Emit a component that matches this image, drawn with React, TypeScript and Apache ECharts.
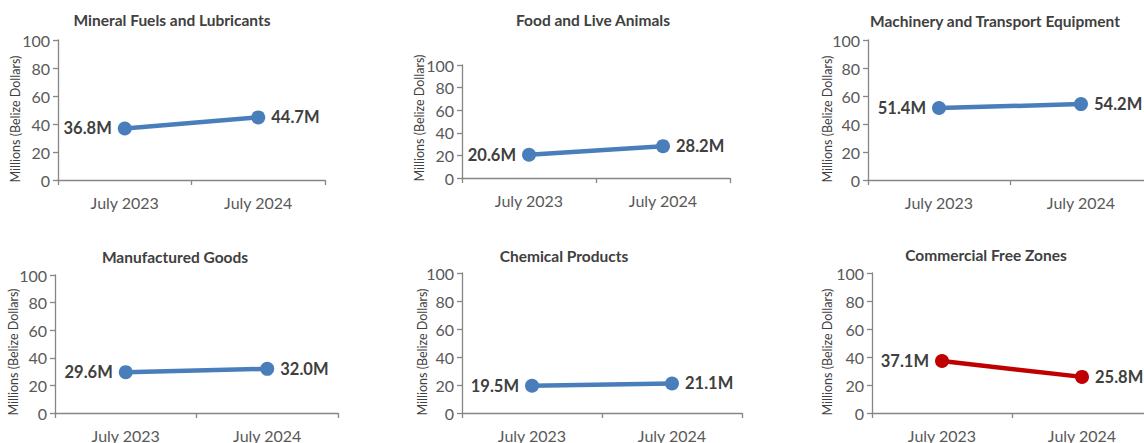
import React, { useEffect, useRef } from "react";
import * as echarts from "echarts";

const categories = ["July 2023", "July 2024"];
const panelTitles = [
  "Mineral Fuels and Lubricants",
  "Food and Live Animals",
  "Machinery and Transport Equipment",
  "Manufactured Goods",
  "Chemical Products",
  "Commercial Free Zones",
];
const mineralFuels = [36.8, 44.7];
const foodAnimals = [20.6, 28.2];
const machinery = [51.4, 54.2];
const manufactured = [29.6, 32.0];
const chemical = [19.5, 21.1];
const freeZones = [37.1, 25.8];
const seriesValues = [mineralFuels, foodAnimals, machinery, manufactured, chemical, freeZones];
const yAxisName = "Millions (Belize Dollars)";
const yMin = 0;
const yMax = 100;
const yInterval = 20;

const BLUE = "#4A7EBB";
const RED = "#C00000";
const FONT = "Lato, 'Open Sans', sans-serif";

// layout of each panel (grid rectangle, title center, y-name center)
const layouts = [
  { left: 58, top: 40, width: 267, height: 140, tx: 172, ty: 20, nx: 15, ny: 119 },
  { left: 462, top: 65, width: 268, height: 113, tx: 593, ty: 20, nx: 419, ny: 118 },
  { left: 868, top: 40, width: 284, height: 140, tx: 995, ty: 21, nx: 827, ny: 119 },
  { left: 55, top: 275, width: 283, height: 138, tx: 175, ty: 257, nx: 13, ny: 352 },
  { left: 462, top: 273, width: 280, height: 140, tx: 564, ty: 256, nx: 422, ny: 352 },
  { left: 872, top: 273, width: 280, height: 140, tx: 986, ty: 255, nx: 827, ny: 352 },
];

export default function App() {
  const ref = useRef<HTMLDivElement>(null);
  useEffect(() => {
    if (!ref.current) return;
    const chart = echarts.init(ref.current, undefined, { renderer: "svg" });
    const axisColor = "#868686";
    const grids = layouts.map((l) => ({
      left: l.left,
      top: l.top,
      width: l.width,
      height: l.height,
      containLabel: false,
      outerBoundsMode: "none",
    }));
    const xAxes = layouts.map((_, i) => ({
      type: "category",
      gridIndex: i,
      data: categories,
      boundaryGap: true,
      axisLine: { show: true, lineStyle: { color: axisColor, width: 1.3 } },
      axisTick: { show: true, length: 5, lineStyle: { color: axisColor, width: 1.3 } },
      axisLabel: { color: "#595959", fontSize: 16, fontFamily: FONT, margin: 14 },
      splitLine: { show: false },
    }));
    const yAxes = layouts.map((_, i) => ({
      type: "value",
      gridIndex: i,
      min: yMin,
      max: yMax,
      interval: yInterval,
      axisLine: { show: true, lineStyle: { color: axisColor, width: 1.3 } },
      axisTick: { show: true, length: 5, lineStyle: { color: axisColor, width: 1.3 } },
      axisLabel: { color: "#595959", fontSize: 16, fontFamily: FONT, margin: 8 },
      splitLine: { show: false },
    }));
    const series = seriesValues.map((vals, i) => {
      const color = i === 5 ? RED : BLUE;
      return {
        type: "line",
        xAxisIndex: i,
        yAxisIndex: i,
        data: vals.map((v, j) => ({
          value: v,
          label: { position: j === 0 ? "left" : "right" },
        })),
        symbol: "circle",
        symbolSize: 14,
        lineStyle: { color, width: 4.5 },
        itemStyle: { color },
        label: {
          show: true,
          distance: 6,
          formatter: (p: any) => Number(p.value).toFixed(1) + "M",
          color: "#404040",
          fontSize: 16.5,
          fontWeight: "bold",
          fontFamily: FONT,
        },
      };
    });
    const graphics: any[] = [];
    layouts.forEach((l, i) => {
      graphics.push({
        type: "text",
        x: l.tx,
        y: l.ty,
        style: {
          text: panelTitles[i],
          fill: "#404040",
          font: `bold 15.5px ${FONT}`,
          textAlign: "center",
          textVerticalAlign: "middle",
        },
      });
      graphics.push({
        type: "text",
        x: l.nx,
        y: l.ny,
        rotation: Math.PI / 2,
        style: {
          text: yAxisName,
          fill: "#404040",
          font: `12.5px ${FONT}`,
          textAlign: "center",
          textVerticalAlign: "middle",
        },
      });
    });
    chart.setOption({
      animation: false,
      backgroundColor: "#ffffff",
      grid: grids,
      xAxis: xAxes,
      yAxis: yAxes,
      series,
      graphic: graphics,
    } as any);
    return () => chart.dispose();
  }, []);
  return (
    <div
      ref={ref}
      style={{ position: "fixed", left: 0, top: 0, width: 1144, height: 443 }}
    />
  );
}
